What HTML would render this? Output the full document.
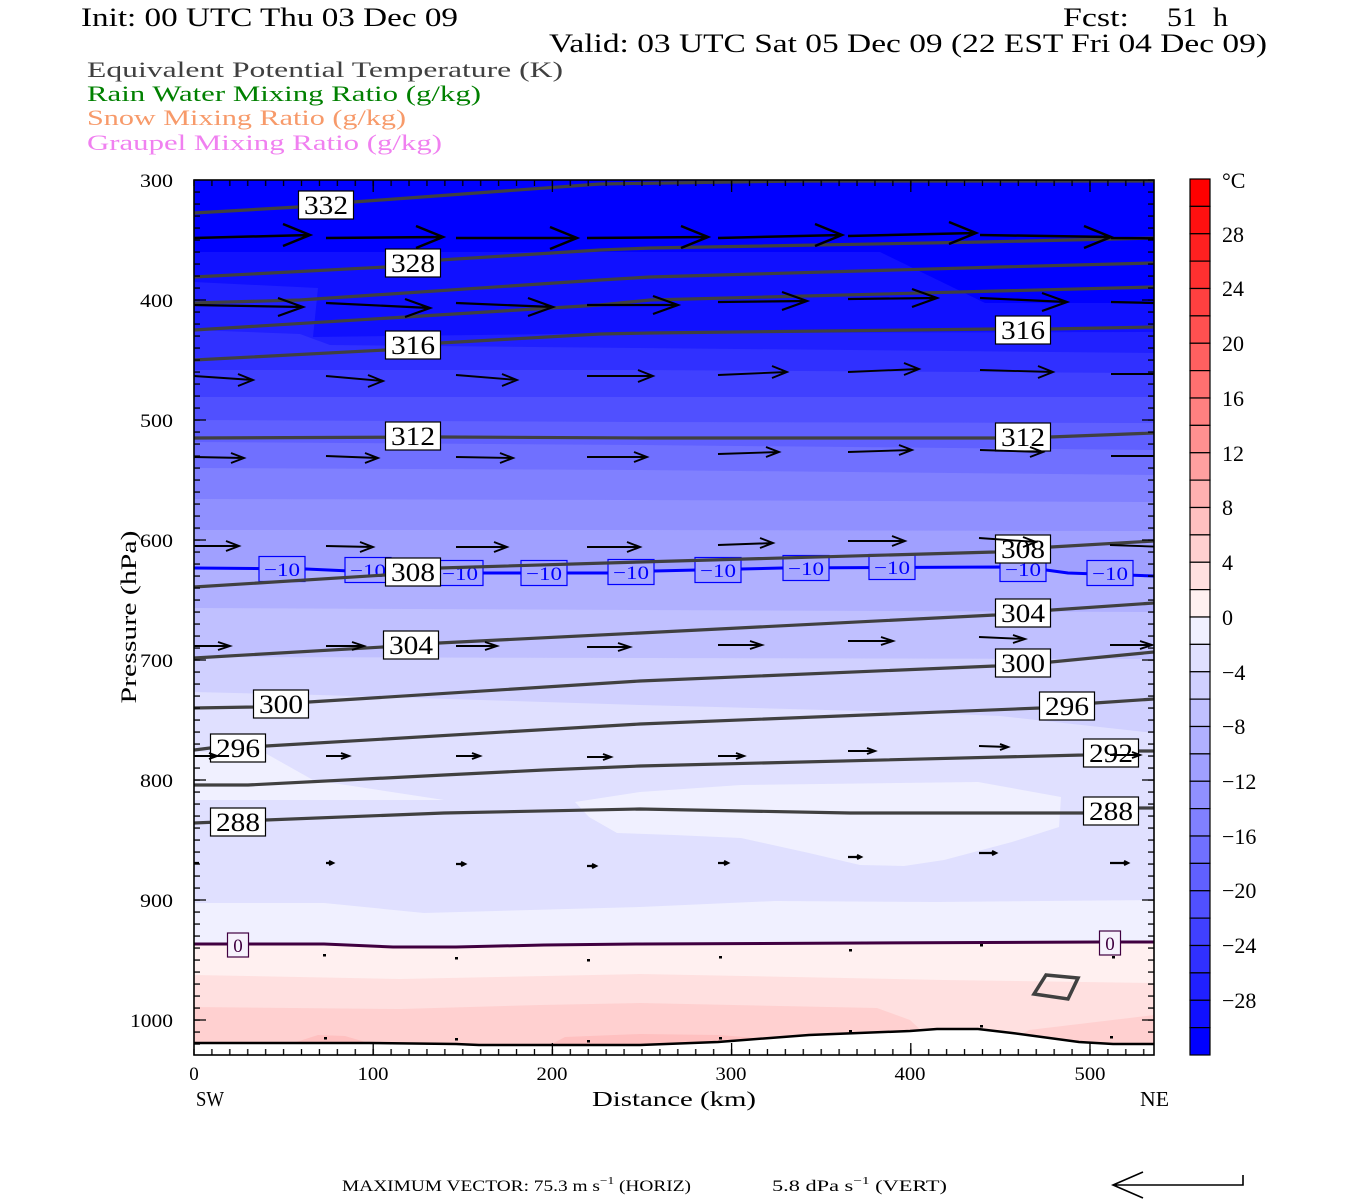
<!DOCTYPE html>
<html><head><meta charset="utf-8"><style>html,body{margin:0;padding:0;background:#fff;}svg{display:block;}</style></head>
<body>
<svg width="1350" height="1200" viewBox="0 0 1350 1200" xmlns="http://www.w3.org/2000/svg" font-family="'Liberation Serif', serif">
<defs>
<clipPath id="clip"><rect x="194" y="180" width="960" height="875"/></clipPath>
<pattern id="ph" x="0" y="174" width="20" height="12" patternUnits="userSpaceOnUse"><rect x="0" y="5.4" width="20" height="1.3" fill="#000"/></pattern>
<pattern id="pv" x="185.04" y="0" width="17.92" height="20" patternUnits="userSpaceOnUse"><rect x="8.3" y="0" width="1.3" height="20" fill="#000"/></pattern>
</defs>
<rect width="1350" height="1200" fill="#fff"/>

<!-- Titles -->
<text x="81" y="26" font-size="26" textLength="377" lengthAdjust="spacingAndGlyphs">Init: 00 UTC Thu 03 Dec 09</text>
<text x="1063" y="26" font-size="26" textLength="66" lengthAdjust="spacingAndGlyphs">Fcst:</text>
<text x="1167" y="26" font-size="26" textLength="30" lengthAdjust="spacingAndGlyphs">51</text>
<text x="1213" y="26" font-size="26" textLength="15" lengthAdjust="spacingAndGlyphs">h</text>
<text x="549" y="52" font-size="26" textLength="718" lengthAdjust="spacingAndGlyphs">Valid: 03 UTC Sat 05 Dec 09 (22 EST Fri 04 Dec 09)</text>
<text x="87" y="77" font-size="22" fill="#404040" textLength="476" lengthAdjust="spacingAndGlyphs">Equivalent Potential Temperature (K)</text>
<text x="87" y="101" font-size="22" fill="#008000" textLength="394" lengthAdjust="spacingAndGlyphs">Rain Water Mixing Ratio (g/kg)</text>
<text x="87" y="125" font-size="22" fill="#f79a6a" textLength="319" lengthAdjust="spacingAndGlyphs">Snow Mixing Ratio (g/kg)</text>
<text x="87" y="150" font-size="22" fill="#f080f0" textLength="355" lengthAdjust="spacingAndGlyphs">Graupel Mixing Ratio (g/kg)</text>

<!-- Filled temperature bands -->
<g clip-path="url(#clip)">
<rect x="194" y="180" width="960" height="875" fill="#ffd0d0"/>
<polygon fill="#ffc0c0" points="548,1046 565,1037 640,1034 720,1035 780,1040 800,1046"/>
<polygon fill="#ffc0c0" points="290,1044 318,1035 345,1036 372,1044"/>
<polygon fill="#ffe0e0" points="194,180 1154,180 1154,1015 1029,1030 1000,1048 940,1048 910,1020 877,1008 640,1003 540,1005 400,1009 194,1007"/>
<polygon fill="#fff0f0" points="194,180 1154,180 1154,983 944,980 640,974 400,979 194,975"/>
<polygon fill="#f0f0ff" points="194,180 1154,180 1154,942 1100,942 640,944 544,945 456,947 393,947 324,944 194,944"/>
<polygon fill="#e0e0ff" points="194,180 1154,180 1154,900 937,902 775,901 640,907 424,913 324,903 194,903"/>
<polygon fill="#f0f0ff" points="194,752 265,753 313,780 444,800 194,800"/>
<polygon fill="#f0f0ff" points="575,802 640,792 741,785 978,782 1061,797 1059,827 1012,842 944,860 904,866 860,865 809,853 741,838 674,835 617,833 589,817"/>
<polygon fill="#d0d0ff" points="194,180 1154,180 1154,733 1000,716 900,712 640,705 320,695 194,692"/>
<polygon fill="#c0c0ff" points="194,180 1154,180 1154,659 640,658 194,657"/>
<polygon fill="#b0b0ff" points="194,180 1154,180 1154,612 640,610 194,608"/>
<polygon fill="#a0a0ff" points="194,180 1154,180 1154,576 1068,573 1046,570 1000,567 782,568 741,569 654,571 608,573 440,573 350,571 306,569 194,568"/>
<polygon fill="#9090ff" points="194,180 1154,180 1154,531 640,530 194,530"/>
<polygon fill="#8080ff" points="194,180 1154,180 1154,502 640,500 194,499"/>
<polygon fill="#7070ff" points="194,180 1154,180 1154,475 640,470 194,468"/>
<polygon fill="#6060ff" points="194,180 1154,180 1154,450 640,445 194,442"/>
<polygon fill="#5050ff" points="194,180 1154,180 1154,423 640,422 194,420"/>
<polygon fill="#4040ff" points="194,180 1154,180 1154,397 194,397"/>
<polygon fill="#3030ff" points="194,180 1154,180 1154,373 640,370 194,370"/>
<polygon fill="#2020ff" points="194,180 1154,180 1154,353 640,348 330,345 300,334 194,330"/>
<polygon fill="#1010ff" points="194,180 1154,180 1154,332 640,333 313,337 318,288 194,282"/>
<polygon fill="#0000ff" points="194,180 1154,180 1154,303 985,303 880,252 194,252"/>

<!-- ground -->
<polygon fill="#fff" points="194,1043 282,1043 369,1043 456,1044 479,1045 606,1045 640,1045 718,1042 809,1035 910,1031 937,1029 978,1029 1012,1033 1079,1042 1113,1044 1154,1044 1154,1058 194,1058"/>
<polyline fill="none" stroke="#000" stroke-width="2.5" points="194,1043 282,1043 369,1043 456,1044 479,1045 606,1045 640,1045 718,1042 809,1035 910,1031 937,1029 978,1029 1012,1033 1079,1042 1113,1044 1154,1044"/>

<!-- -10 isotherm -->
<path fill="none" stroke="#0000ff" stroke-width="3" d="M194,568 L306,569 L350,571 L440,573 L608,573 L654,571 L741,569 L782,568 L1000,567 L1046,570 L1068,573 L1154,576"/>
<g fill="#a8a8ff" stroke="#0000ff" stroke-width="1.2">
<rect x="259" y="556.5" width="46" height="25"/><rect x="345" y="557.5" width="46" height="25"/><rect x="437" y="560.5" width="46" height="25"/><rect x="521" y="560.5" width="46" height="25"/><rect x="608" y="559.5" width="46" height="25"/><rect x="695" y="557.5" width="46" height="25"/><rect x="783" y="555.5" width="46" height="25"/><rect x="869" y="554.5" width="46" height="25"/><rect x="1000" y="556.5" width="46" height="25"/><rect x="1087" y="560.5" width="46" height="25"/>
</g>
<g fill="#0000ff" font-size="19" text-anchor="middle">
<text x="282" y="576" textLength="36" lengthAdjust="spacingAndGlyphs">−10</text><text x="368" y="577" textLength="36" lengthAdjust="spacingAndGlyphs">−10</text><text x="460" y="580" textLength="36" lengthAdjust="spacingAndGlyphs">−10</text><text x="544" y="580" textLength="36" lengthAdjust="spacingAndGlyphs">−10</text><text x="631" y="579" textLength="36" lengthAdjust="spacingAndGlyphs">−10</text><text x="718" y="577" textLength="36" lengthAdjust="spacingAndGlyphs">−10</text><text x="806" y="575" textLength="36" lengthAdjust="spacingAndGlyphs">−10</text><text x="892" y="574" textLength="36" lengthAdjust="spacingAndGlyphs">−10</text><text x="1023" y="576" textLength="36" lengthAdjust="spacingAndGlyphs">−10</text><text x="1110" y="580" textLength="36" lengthAdjust="spacingAndGlyphs">−10</text>
</g>

<!-- 0 isotherm -->
<path fill="none" stroke="#400040" stroke-width="3" d="M194,944 L324,944 L393,947 L456,947 L544,945 L640,944 L1100,942 L1154,942"/>
<rect x="227.5" y="933" width="21" height="24" fill="#f6f2fc" stroke="#400040" stroke-width="1.2"/>
<rect x="1099.5" y="931" width="21" height="24" fill="#f6f2fc" stroke="#400040" stroke-width="1.2"/>
<text x="238" y="952" font-size="19" fill="#400040" text-anchor="middle">0</text>
<text x="1110" y="950" font-size="19" fill="#400040" text-anchor="middle">0</text>

<!-- theta-e contours -->
<g fill="none" stroke="#404040" stroke-width="3.2">
<path d="M194,213 L298,207 L353,202 L600,184 L800,181 L1154,181"/>
<path d="M194,277 L386,267 L440,260 L600,250 L650,248 L983,242 L1154,238"/>
<path d="M194,303 L300,300 L600,280 L650,277 L1000,267 L1154,263"/>
<path d="M194,330 L600,305 L650,300 L1154,287"/>
<path d="M194,360 L386,350 L440,343 L600,334 L650,333 L996,329 L1050,329 L1154,327"/>
<path d="M194,438 L440,437 L650,438 L996,438 L1050,437 L1154,433"/>
<path d="M194,587 L385,575 L440,568 L640,562 L995,552 L1051,547 L1154,541"/>
<path d="M194,658 L383,647 L439,643 L640,633 L995,615 L1052,610 L1154,603"/>
<path d="M194,708 L254,707 L309,702 L640,681 L995,666 L1051,662 L1154,652"/>
<path d="M194,750 L210,748 L266,746 L640,724 L1040,708 L1095,703 L1154,699"/>
<path d="M194,785 L248,785 L444,775 L544,770 L640,766 L1083,755 L1139,751 L1154,751"/>
<path d="M194,823 L266,820 L444,813 L640,809 L850,813 L1083,813 L1139,808 L1154,808"/>
<polygon points="1046,975 1078,978 1068,999 1034,994" stroke-width="3.5"/>
</g>

<!-- theta-e labels -->
<g fill="#fff" stroke="#000" stroke-width="1.2">
<rect x="298.5" y="191" width="55" height="28"/><rect x="385.5" y="249" width="55" height="28"/><rect x="385.5" y="331" width="55" height="28"/><rect x="385.5" y="422" width="55" height="28"/><rect x="385.5" y="558" width="55" height="28"/><rect x="383.5" y="631" width="55" height="28"/><rect x="253.5" y="690" width="55" height="28"/><rect x="210.5" y="734" width="55" height="28"/><rect x="210.5" y="808" width="55" height="28"/>
<rect x="995.5" y="316" width="55" height="28"/><rect x="995.5" y="423" width="55" height="28"/><rect x="995.5" y="535" width="55" height="28"/><rect x="995.5" y="599" width="55" height="28"/><rect x="995.5" y="649" width="55" height="28"/><rect x="1039.5" y="692" width="55" height="28"/><rect x="1083.5" y="739" width="55" height="28"/><rect x="1083.5" y="797" width="55" height="28"/>
</g>
<g fill="#000" font-size="26" text-anchor="middle">
<text x="326" y="214" textLength="44" lengthAdjust="spacingAndGlyphs">332</text>
<text x="413" y="272" textLength="44" lengthAdjust="spacingAndGlyphs">328</text>
<text x="413" y="354" textLength="44" lengthAdjust="spacingAndGlyphs">316</text>
<text x="413" y="445" textLength="44" lengthAdjust="spacingAndGlyphs">312</text>
<text x="413" y="581" textLength="44" lengthAdjust="spacingAndGlyphs">308</text>
<text x="411" y="654" textLength="44" lengthAdjust="spacingAndGlyphs">304</text>
<text x="281" y="713" textLength="44" lengthAdjust="spacingAndGlyphs">300</text>
<text x="238" y="757" textLength="44" lengthAdjust="spacingAndGlyphs">296</text>
<text x="238" y="831" textLength="44" lengthAdjust="spacingAndGlyphs">288</text>
<text x="1023" y="339" textLength="44" lengthAdjust="spacingAndGlyphs">316</text>
<text x="1023" y="446" textLength="44" lengthAdjust="spacingAndGlyphs">312</text>
<text x="1023" y="558" textLength="44" lengthAdjust="spacingAndGlyphs">308</text>
<text x="1023" y="622" textLength="44" lengthAdjust="spacingAndGlyphs">304</text>
<text x="1023" y="672" textLength="44" lengthAdjust="spacingAndGlyphs">300</text>
<text x="1067" y="715" textLength="44" lengthAdjust="spacingAndGlyphs">296</text>
<text x="1111" y="762" textLength="44" lengthAdjust="spacingAndGlyphs">292</text>
<text x="1111" y="820" textLength="44" lengthAdjust="spacingAndGlyphs">288</text>
</g>

<!-- wind vectors -->
<g fill="none" stroke="#000" stroke-linecap="butt">
<path stroke-width="2.5" d="M194,238L310,235M283,224L310,235L283,246 M326,238L443,237M416,226L443,237L416,248 M456,238L577,238M550,227L577,238L550,249 M587,238L708,237M681,226L708,237L681,248 M718,238L842,235M815,224L842,235L815,246 M848,236L976,233M949,222L976,233L949,244 M980,235L1111,237M1084,226L1111,237L1084,248 M1111,238L1240,239"/>
<path stroke-width="2.2" d="M194,305L303,307M278,298L303,307L278,316 M326,303L430,308M405,299L430,308L405,317 M456,303L553,307M528,298L553,307L528,316 M587,305L678,305M653,296L678,305L653,314 M718,302L807,301M782,292L807,301L782,310 M848,299L937,298M912,289L937,298L912,307 M980,298L1067,302M1042,293L1067,302L1042,311 M1111,302L1200,304"/>
<path stroke-width="1.9" d="M194,376L253,380M238,374L253,380L238,386 M326,376L383,381M368,375L383,381L368,387 M456,375L517,380M502,374L517,380L502,386 M587,376L653,376M638,370L653,376L638,382 M718,375L787,372M772,366L787,372L772,378 M848,372L919,369M904,363L919,369L904,375 M980,370L1053,372M1038,366L1053,372L1038,378 M1111,374L1180,374"/>
<path stroke-width="1.9" d="M194,457L244,458M231,453L244,458L231,463 M326,456L378,458M365,453L378,458L365,463 M456,457L513,458M500,453L513,458L500,463 M587,457L647,457M634,452L647,457L634,462 M718,454L779,452M766,447L779,452L766,457 M848,452L912,450M899,445L912,450L899,455 M980,450L1043,452M1030,447L1043,452L1030,457 M1111,456L1175,456"/>
<path stroke-width="1.9" d="M194,546L239,546M226,541L239,546L226,551 M326,546L373,547M360,542L373,547L360,552 M456,547L507,547M494,542L507,547L494,552 M587,547L640,547M627,542L640,547L627,552 M718,545L773,543M760,538L773,543L760,548 M848,541L905,541M892,536L905,541L892,546 M979,538L1036,542M1023,537L1036,542L1023,547 M1110,545L1165,547"/>
<path stroke-width="1.9" d="M194,646L230,646M218,642L230,646L218,650 M326,646L364,646M352,642L364,646L352,650 M456,646L497,646M485,642L497,646L485,650 M587,647L630,647M618,643L630,647L618,651 M718,645L762,645M750,641L762,645L750,649 M848,641L893,641M881,637L893,641L881,645 M979,637L1025,639M1013,635L1025,639L1013,643 M1110,645L1152,645M1140,641L1152,645L1140,649"/>
<path stroke-width="2" d="M194,756L217,756M209,753L217,756L209,759 M326,756L349,756M341,753L349,756L341,759 M456,756L480,756M472,753L480,756L472,759 M587,757L611,757M603,754L611,757L603,760 M718,756L744,756M736,753L744,756L736,759 M848,751L875,751M867,748L875,751L867,754 M979,746L1008,747M1000,744L1008,747L1000,750 M1110,755L1140,755M1132,752L1140,755L1132,758"/>
<path stroke-width="2.2" d="M194,863L199,863 M326,863L333,863M329,861L333,863L329,865 M456,864L465,864M461,862L465,864L461,866 M587,866L596,866M592,864L596,866L592,868 M718,863L728,863M724,861L728,863L724,865 M848,857L861,857M857,855L861,857L857,859 M979,853L996,853M992,851L996,853L992,855 M1110,863L1128,863M1124,861L1128,863L1124,865"/>
</g>
<g fill="#000">
<rect x="323" y="954" width="3" height="2.5"/><rect x="455" y="957" width="3" height="2.5"/><rect x="587" y="959" width="3" height="2.5"/><rect x="719" y="956" width="3" height="2.5"/><rect x="849" y="949" width="3" height="2.5"/><rect x="980" y="944" width="3" height="2.5"/><rect x="1112" y="956" width="3" height="2.5"/>
<rect x="324" y="1037" width="3" height="2.5"/><rect x="455" y="1038" width="3" height="2.5"/><rect x="587" y="1040" width="3" height="2.5"/><rect x="719" y="1037" width="3" height="2.5"/><rect x="849" y="1030" width="3" height="2.5"/><rect x="980" y="1025" width="3" height="2.5"/><rect x="1110" y="1036" width="3" height="2.5"/>
</g>
</g>

<!-- ticks -->
<rect x="194" y="179" width="6" height="866" fill="url(#ph)"/>
<rect x="1148" y="179" width="6" height="866" fill="url(#ph)"/>
<rect x="193" y="180" width="955" height="6" fill="url(#pv)"/>
<rect x="193" y="1049" width="955" height="6" fill="url(#pv)"/>
<path stroke="#000" stroke-width="1.3" fill="none" d="M194,300h12M194,420h12M194,540h12M194,660h12M194,780h12M194,900h12M194,1020h12 M1154,300h-12M1154,420h-12M1154,540h-12M1154,660h-12M1154,780h-12M1154,900h-12M1154,1020h-12 M373.2,180v12M552.4,180v12M731.6,180v12M910.8,180v12M1090,180v12 M373.2,1055v-12M552.4,1055v-12M731.6,1055v-12M910.8,1055v-12M1090,1055v-12"/>
<rect x="194" y="180" width="960" height="875" fill="none" stroke="#000" stroke-width="1.6"/>

<!-- axis labels -->
<g font-size="19" text-anchor="end">
<text x="173" y="187" textLength="33" lengthAdjust="spacingAndGlyphs">300</text>
<text x="173" y="307" textLength="33" lengthAdjust="spacingAndGlyphs">400</text>
<text x="173" y="427" textLength="33" lengthAdjust="spacingAndGlyphs">500</text>
<text x="173" y="547" textLength="33" lengthAdjust="spacingAndGlyphs">600</text>
<text x="173" y="667" textLength="33" lengthAdjust="spacingAndGlyphs">700</text>
<text x="173" y="787" textLength="33" lengthAdjust="spacingAndGlyphs">800</text>
<text x="173" y="907" textLength="33" lengthAdjust="spacingAndGlyphs">900</text>
<text x="173" y="1027" textLength="43" lengthAdjust="spacingAndGlyphs">1000</text>
</g>
<g font-size="19" text-anchor="middle">
<text x="194" y="1080">0</text>
<text x="373" y="1080" textLength="31" lengthAdjust="spacingAndGlyphs">100</text>
<text x="552" y="1080" textLength="31" lengthAdjust="spacingAndGlyphs">200</text>
<text x="731" y="1080" textLength="31" lengthAdjust="spacingAndGlyphs">300</text>
<text x="910" y="1080" textLength="31" lengthAdjust="spacingAndGlyphs">400</text>
<text x="1090" y="1080" textLength="31" lengthAdjust="spacingAndGlyphs">500</text>
</g>
<text x="196" y="1106" font-size="21" textLength="28" lengthAdjust="spacingAndGlyphs">SW</text>
<text x="592" y="1106" font-size="21" textLength="164" lengthAdjust="spacingAndGlyphs">Distance (km)</text>
<text x="1140" y="1106" font-size="21" textLength="29" lengthAdjust="spacingAndGlyphs">NE</text>
<text transform="translate(136,617) rotate(-90)" font-size="22" text-anchor="middle" textLength="173" lengthAdjust="spacingAndGlyphs">Pressure (hPa)</text>

<!-- colorbar -->
<g stroke="#000" stroke-width="1.2">
<rect x="1190" y="179" width="20" height="27.375" fill="#ff0000"/>
<rect x="1190" y="206.375" width="20" height="27.375" fill="#ff1010"/>
<rect x="1190" y="233.75" width="20" height="27.375" fill="#ff2020"/>
<rect x="1190" y="261.125" width="20" height="27.375" fill="#ff3030"/>
<rect x="1190" y="288.5" width="20" height="27.375" fill="#ff4040"/>
<rect x="1190" y="315.875" width="20" height="27.375" fill="#ff5050"/>
<rect x="1190" y="343.25" width="20" height="27.375" fill="#ff6060"/>
<rect x="1190" y="370.625" width="20" height="27.375" fill="#ff7070"/>
<rect x="1190" y="398" width="20" height="27.375" fill="#ff8080"/>
<rect x="1190" y="425.375" width="20" height="27.375" fill="#ff9090"/>
<rect x="1190" y="452.75" width="20" height="27.375" fill="#ffa0a0"/>
<rect x="1190" y="480.125" width="20" height="27.375" fill="#ffb0b0"/>
<rect x="1190" y="507.5" width="20" height="27.375" fill="#ffc0c0"/>
<rect x="1190" y="534.875" width="20" height="27.375" fill="#ffd0d0"/>
<rect x="1190" y="562.25" width="20" height="27.375" fill="#ffe0e0"/>
<rect x="1190" y="589.625" width="20" height="27.375" fill="#fff0f0"/>
<rect x="1190" y="617" width="20" height="27.375" fill="#f0f0ff"/>
<rect x="1190" y="644.375" width="20" height="27.375" fill="#e0e0ff"/>
<rect x="1190" y="671.75" width="20" height="27.375" fill="#d0d0ff"/>
<rect x="1190" y="699.125" width="20" height="27.375" fill="#c0c0ff"/>
<rect x="1190" y="726.5" width="20" height="27.375" fill="#b0b0ff"/>
<rect x="1190" y="753.875" width="20" height="27.375" fill="#a0a0ff"/>
<rect x="1190" y="781.25" width="20" height="27.375" fill="#9090ff"/>
<rect x="1190" y="808.625" width="20" height="27.375" fill="#8080ff"/>
<rect x="1190" y="836" width="20" height="27.375" fill="#7070ff"/>
<rect x="1190" y="863.375" width="20" height="27.375" fill="#6060ff"/>
<rect x="1190" y="890.75" width="20" height="27.375" fill="#5050ff"/>
<rect x="1190" y="918.125" width="20" height="27.375" fill="#4040ff"/>
<rect x="1190" y="945.5" width="20" height="27.375" fill="#3030ff"/>
<rect x="1190" y="972.875" width="20" height="27.375" fill="#2020ff"/>
<rect x="1190" y="1000.25" width="20" height="27.375" fill="#1010ff"/>
<rect x="1190" y="1027.625" width="20" height="27.375" fill="#0000ff"/>
</g>
<g font-size="22">
<text x="1222" y="188">°C</text>
<text x="1222" y="242">28</text>
<text x="1222" y="296">24</text>
<text x="1222" y="351">20</text>
<text x="1222" y="406">16</text>
<text x="1222" y="461">12</text>
<text x="1222" y="515">8</text>
<text x="1222" y="570">4</text>
<text x="1222" y="625">0</text>
<text x="1222" y="680">−4</text>
<text x="1222" y="734">−8</text>
<text x="1222" y="789">−12</text>
<text x="1222" y="844">−16</text>
<text x="1222" y="898">−20</text>
<text x="1222" y="953">−24</text>
<text x="1222" y="1008">−28</text>
</g>

<!-- bottom note -->
<g font-size="16">
<text x="342" y="1191" textLength="349" lengthAdjust="spacingAndGlyphs">MAXIMUM VECTOR:   75.3 m s<tspan dy="-7" font-size="11">−1</tspan><tspan dy="7"> (HORIZ)</tspan></text>
<text x="772" y="1191" textLength="175" lengthAdjust="spacingAndGlyphs">5.8 dPa s<tspan dy="-7" font-size="11">−1</tspan><tspan dy="7"> (VERT)</tspan></text>
</g>
<path fill="none" stroke="#000" stroke-width="1.6" d="M1113,1185 L1243,1185 L1243,1175 M1143,1172 L1113,1185 L1143,1198"/>
</svg>
</body></html>
